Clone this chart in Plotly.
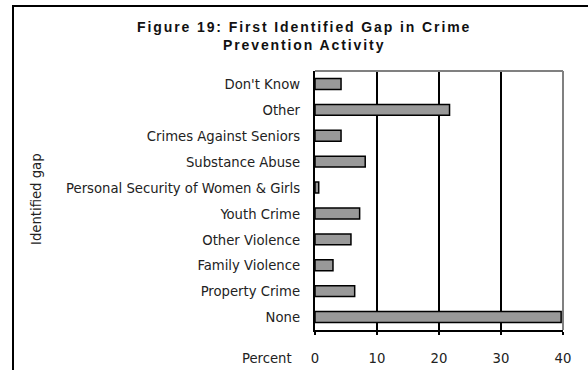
import plotly.graph_objects as go

# Data: share of respondents naming each gap first (percent)
categories = [
    "Don't Know",
    "Other",
    "Crimes Against Seniors",
    "Substance Abuse",
    "Personal Security of Women & Girls",
    "Youth Crime",
    "Other Violence",
    "Family Violence",
    "Property Crime",
    "None",
]
percent = [4.2, 21.7, 4.2, 8.1, 0.6, 7.2, 5.8, 2.9, 6.4, 39.7]
x_ticks = [0, 10, 20, 30, 40]

W, H = 588, 370
L, R, T, B = 315, 25, 71, 40
pw, ph = W - L - R, H - T - B

def px_x(p):
    return (p - L) / pw

def px_y(p):
    return (H - B - p) / ph

narrow = "DejaVu Sans Condensed, Liberation Sans Narrow, Arial Narrow, sans-serif"
label_font = dict(family=narrow, size=14.7, color="#222222")

fig = go.Figure(
    go.Bar(
        x=percent,
        y=categories,
        orientation="h",
        width=0.42,
        marker=dict(color="#999999", line=dict(color="black", width=1.5)),
    )
)

fig.update_layout(
    width=W,
    height=H,
    margin=dict(l=L, r=R, t=T, b=B, autoexpand=False),
    paper_bgcolor="white",
    plot_bgcolor="white",
    showlegend=False,
    font=label_font,
)

fig.update_xaxes(
    range=[0, 40],
    tickvals=x_ticks,
    ticktext=[str(v) for v in x_ticks],
    showgrid=True,
    gridcolor="black",
    gridwidth=1.5,
    zeroline=False,
    showline=True,
    linecolor="black",
    linewidth=2,
    ticks="outside",
    ticklen=3,
    tickcolor="black",
    tickwidth=1.5,
    ticklabelstandoff=10,
    tickfont=label_font,
    automargin=False,
)

fig.update_yaxes(
    categoryorder="array",
    categoryarray=categories[::-1],
    range=[-0.5, len(categories) - 0.5],
    showgrid=False,
    zeroline=False,
    showline=True,
    linecolor="black",
    linewidth=2,
    ticks="",
    ticklabelstandoff=10,
    tickfont=label_font,
    automargin=False,
)

shapes = [
    # gray top and right edges of the plot area
    dict(type="line", xref="paper", yref="paper", x0=0, x1=1, y0=1, y1=1,
         line=dict(color="#808080", width=2)),
    dict(type="line", xref="paper", yref="paper", x0=1, x1=1, y0=0, y1=1,
         line=dict(color="#808080", width=2)),
    # outer frame around the whole figure
    dict(type="rect", xref="paper", yref="paper",
         x0=px_x(13), x1=px_x(W + 20), y0=px_y(H + 20), y1=px_y(6),
         line=dict(color="black", width=2), fillcolor="rgba(0,0,0,0)", layer="above"),
]
fig.update_layout(shapes=shapes)

title_style = "letter-spacing:1.9px"
annotations = [
    dict(text=(f"<span style='{title_style}'><b>Figure 19: First Identified Gap in Crime</b></span><br>"
               f"<span style='{title_style}'><b>Prevention Activity</b></span>"),
         xref="paper", yref="paper", x=px_x(304), y=px_y(36),
         xanchor="center", yanchor="middle", showarrow=False,
         font=dict(family="Liberation Sans, Arial, sans-serif", size=14, color="#111111")),
    dict(text="Identified gap", xref="paper", yref="paper",
         x=px_x(35), y=px_y(199), xanchor="center", yanchor="middle",
         textangle=-90, showarrow=False, font=label_font),
    dict(text="Percent", xref="paper", yref="paper",
         x=px_x(294), y=px_y(357), xanchor="right", yanchor="middle",
         showarrow=False, font=label_font),
]
fig.update_layout(annotations=annotations)

fig.write_html("out.html")
